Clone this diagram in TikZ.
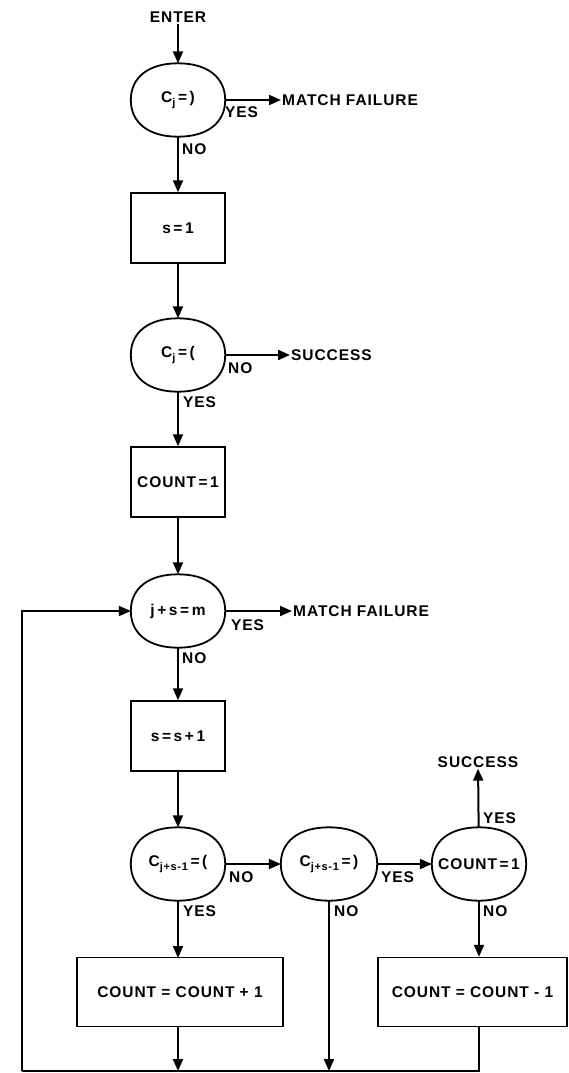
\documentclass[tikz,border=0pt]{standalone}
\usepackage{fontspec}
\setmainfont{Liberation Sans}[LetterSpace=6]
\usetikzlibrary{arrows.meta,calc}
\newcommand{\sbs}[1]{\raisebox{-0.45ex}{\fontsize{11}{11}\selectfont #1}}
\newcommand{\dshape}[1]{%
  \draw[dln] (#1.east)
   .. controls ($(#1.east)!0.62!(#1.north east)$) and ($(#1.north)!0.62!(#1.north east)$) .. (#1.north)
   .. controls ($(#1.north)!0.62!(#1.north west)$) and ($(#1.west)!0.62!(#1.north west)$) .. (#1.west)
   .. controls ($(#1.west)!0.62!(#1.south west)$) and ($(#1.south)!0.62!(#1.south west)$) .. (#1.south)
   .. controls ($(#1.south)!0.62!(#1.south east)$) and ($(#1.east)!0.62!(#1.south east)$) .. (#1.east) -- cycle;}
\tikzset{
  every node/.style={font=\fontsize{15.5}{17}\selectfont\bfseries},
  ln/.style={line width=2pt},
  dln/.style={line width=1.8pt},
  arr/.style={ln,-{Triangle[length=12pt,width=10pt]}},
  dec/.style={minimum width=94pt,minimum height=73pt,inner sep=0pt},
  boxn/.style={draw,line width=1.5pt,minimum width=94pt,minimum height=70pt,inner sep=0pt},
  txt/.style={inner sep=1pt},
  lab/.style={inner sep=0pt,anchor=west}
}
\begin{document}
\begin{tikzpicture}[x=1pt,y=-1pt]
\useasboundingbox (0,0) rectangle (568,1073);
% nodes
\node[txt] (enter) at (178,17) {ENTER};
\node[dec] (n1) at (178,100) {C\sbs{j}\,=\,)};
\node[txt,anchor=west] (mf1) at (281,100) {MATCH FAILURE};
\node[boxn] (s1) at (178,228) {s\,=\,1};
\node[dec] (n2) at (178,355) {C\sbs{j}\,=\,(};
\node[txt,anchor=west] (sc1) at (290,355) {SUCCESS};
\node[boxn] (c1) at (178,482) {COUNT\,=\,1};
\node[dec] (n3) at (178,611) {j\,+\,s\,=\,m};
\node[txt,anchor=west] (mf2) at (292,611) {MATCH FAILURE};
\node[boxn] (ss) at (178,736) {s\,=\,s\,+\,1};
\node[dec] (n4) at (178,864) {C\sbs{j+s-1}\,=\,(};
\node[dec,minimum width=96pt] (n5) at (329,864) {C\sbs{j+s-1}\,=\,)};
\node[dec] (n6) at (479,864) {COUNT\,=\,1};
\node[txt] (sc2) at (478,762) {SUCCESS};
\node[boxn,minimum width=206pt,minimum height=69pt] (b4) at (180,992) {COUNT = COUNT + 1};
\node[boxn,minimum width=189pt,minimum height=69pt] (b5) at (472.5,992) {COUNT = COUNT - 1};
\coordinate (bl) at (22,1071);
\coordinate (tl) at (22,611);
\coordinate (br) at (479,1071);
\coordinate (b4in) at (178,958);
\dshape{n1}
\dshape{n2}
\dshape{n3}
\dshape{n4}
\dshape{n5}
\dshape{n6}
% connectors
\draw[arr] (enter) -- (n1);
\draw[arr] (n1) -- (mf1);
\draw[arr] (n1) -- (s1);
\draw[arr] (s1) -- (n2);
\draw[arr] (n2) -- (sc1);
\draw[arr] (n2) -- (c1);
\draw[arr] (c1) -- (n3);
\draw[arr] (n3) -- (mf2);
\draw[arr] (n3) -- (ss);
\draw[arr] (ss) -- (n4);
\draw[arr] (n4) -- (n5);
\draw[arr] (n5) -- (n6);
\draw[arr] (n6) -- (sc2);
\draw[arr] (n4) -- (b4in);
\draw[arr] (n6.south) -- (n6.south |- b5.north);
\draw[arr] (b4.south -| b4in) -- (b4in |- bl);
\draw[arr] (n5) -- (n5.south |- bl);
\draw[ln] (b5.south -| br) -- (br) -- (bl);
\draw[arr] (bl) -- (tl) -- (n3);
% labels
\node[lab] (l1) at (225,112) {YES};
\node[lab] (l2) at (182,149) {NO};
\node[lab] (l3) at (228,368) {NO};
\node[lab] (l4) at (183,402) {YES};
\node[lab] (l5) at (231,625) {YES};
\node[lab] (l6) at (182,658) {NO};
\node[lab] (l7) at (229,877) {NO};
\node[lab] (l8) at (381,877) {YES};
\node[lab] (l9) at (483,818) {YES};
\node[lab] (l10) at (183,911) {YES};
\node[lab] (l11) at (334,911) {NO};
\node[lab] (l12) at (483,911) {NO};
\end{tikzpicture}
\end{document}
